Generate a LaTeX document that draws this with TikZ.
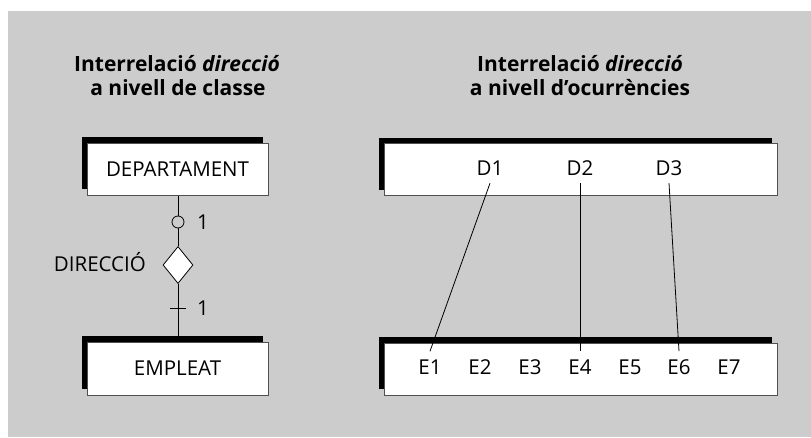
\documentclass[tikz,border=0pt]{standalone}
\usepackage{fontspec}
\setmainfont{Open Sans}
\usetikzlibrary{shapes.geometric,shadows}
\definecolor{bggray}{RGB}{204,204,204}
\definecolor{boxline}{RGB}{80,80,80}
\tikzset{
  entity/.style={rectangle, fill=white, draw=boxline, line width=1pt,
    general shadow={fill=black, shadow xshift=-5pt, shadow yshift=6pt}},
  lbl/.style={font=\fontsize{20.5}{24}\selectfont, inner sep=0pt},
  occ/.style={font=\fontsize{20.5}{24}\selectfont, inner xsep=2pt, inner ysep=8pt,
    text height=14.6pt, text depth=0pt},
  ttl/.style={font=\fontsize{21}{24}\selectfont\bfseries, inner sep=0pt, anchor=base},
  conn/.style={draw=black, line width=0.8pt},
}
\begin{document}
\begin{tikzpicture}[x=1pt,y=-1pt]
\useasboundingbox (0,0) rectangle (811,437);
\fill[bggray] (8,11) rectangle (811,437);

% titles
\node[ttl] (t1a) at (177,71.5) {Interrelació \textit{direcció}};
\node[ttl] (t1b) at (178,95.5) {a nivell de classe};
\node[ttl] (t2a) at (580,71.5) {Interrelació \textit{direcció}};
\node[ttl] (t2b) at (580,95.5) {a nivell d’ocurrències};

% left: class level
\node[entity, minimum width=181pt, minimum height=52pt] (dep) at (177.5,169) {};
\node[lbl] at (dep.center) {DEPARTAMENT};
\node[entity, minimum width=181pt, minimum height=53pt] (emp) at (177.5,368.5) {};
\node[lbl] at (emp.center) {EMPLEAT};
\node[diamond, fill=white, draw=black, line width=0.8pt, minimum width=30pt, minimum height=37pt, inner sep=0pt] (dir) at (178,265) {};
\draw[conn] (dep.south -| dir.north) -- (dir.north);
\draw[conn] (dir.south) -- (emp.north -| dir.south);
\node[circle, fill=bggray, draw=black, line width=0.8pt, minimum size=12pt, inner sep=0pt] (c1) at (178,222) {};
\coordinate (tk) at (178,308);
\draw[conn] ([xshift=-8pt]tk) -- ([xshift=8pt]tk);
\node[lbl, anchor=base] (n1) at (203,229) {1};
\node[lbl, anchor=base] (n2) at (203,315) {1};
\node[lbl, anchor=base east] (dirl) at (146,271.7) {DIRECCIÓ};

% right: occurrence level
\node[entity, minimum width=393pt, minimum height=52pt] (top) at (580.5,169.5) {};
\node[entity, minimum width=393pt, minimum height=52pt] (bot) at (580.5,369) {};
\node[occ] (D1) at (490,167.7) {D1};
\node[occ] (D2) at (580,167.7) {D2};
\node[occ] (D3) at (669,167.7) {D3};
\node[occ] (E1) at (430,366.7) {E1};
\node[occ] (E2) at (480,366.7) {E2};
\node[occ] (E3) at (530,366.7) {E3};
\node[occ] (E4) at (580,366.7) {E4};
\node[occ] (E5) at (630,366.7) {E5};
\node[occ] (E6) at (679,366.7) {E6};
\node[occ] (E7) at (729,366.7) {E7};
\draw[conn] (D1.south) -- (E1.north);
\draw[conn] (D2.south) -- (E4.north);
\draw[conn] (D3.south) -- (E6.north);
\end{tikzpicture}
\end{document}
